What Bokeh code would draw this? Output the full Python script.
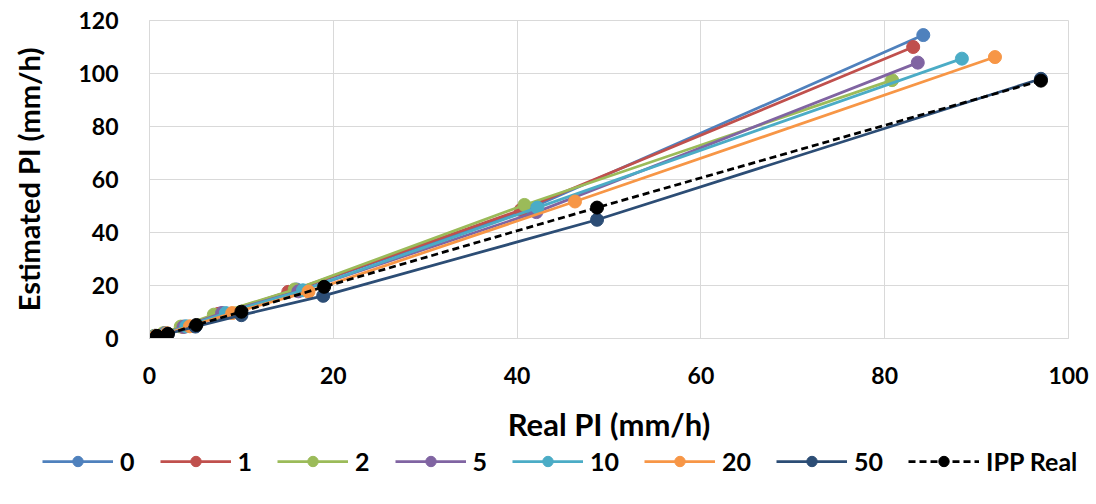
from bokeh.plotting import figure
from bokeh.models import Legend, LegendItem, Range1d, FixedTicker
from bokeh.layouts import column, row
from bokeh.embed import file_html
from bokeh.resources import INLINE

# ---- data ----
series_names = ["0", "1", "2", "5", "10", "20", "50"]
series_colors = ["#4F81BD", "#C0504D", "#9BBB59", "#8064A2", "#4BACC6", "#F79646", "#2C4D75"]

x_0 = [0.6, 1.7, 3.8, 7.8, 16.0, 41.0, 84.2]
y_0 = [1.0, 2.0, 4.5, 9.5, 18.5, 48.5, 114.5]
x_1 = [0.6, 1.7, 3.6, 7.5, 15.1, 40.4, 83.1]
y_1 = [1.0, 2.0, 4.4, 9.3, 17.6, 48.5, 110.0]
x_2 = [0.5, 1.5, 3.4, 7.0, 15.8, 40.8, 80.8]
y_2 = [1.0, 2.0, 4.5, 9.0, 18.5, 50.4, 97.5]
x_5 = [0.6, 1.7, 3.7, 7.9, 16.2, 42.1, 83.6]
y_5 = [1.0, 2.0, 4.4, 9.6, 17.8, 47.7, 104.1]
x_10 = [0.6, 1.8, 4.0, 8.3, 16.7, 42.2, 88.4]
y_10 = [1.0, 2.0, 4.6, 9.6, 18.2, 49.4, 105.6]
x_20 = [0.7, 1.9, 4.4, 9.0, 17.3, 46.3, 92.0]
y_20 = [1.0, 2.0, 4.6, 9.6, 17.7, 51.7, 106.2]
x_50 = [0.8, 2.0, 5.0, 10.0, 18.9, 48.7, 97.0]
y_50 = [0.8, 1.8, 4.5, 8.8, 16.1, 44.8, 98.0]
x_ipp = [0.8, 2.0, 5.1, 10.0, 19.0, 48.7, 97.0]
y_ipp = [1.0, 1.7, 5.1, 10.1, 19.5, 49.4, 97.3]

xs = [x_0, x_1, x_2, x_5, x_10, x_20, x_50]
ys = [y_0, y_1, y_2, y_5, y_10, y_20, y_50]

x_ticks = [0, 20, 40, 60, 80, 100]
y_ticks = [0, 20, 40, 60, 80, 100, 120]

FONT = "Lato"
GRID = "#D9D9D9"
W = 1090

main = figure(width=W, height=445, output_backend="svg", toolbar_location=None,
              x_range=Range1d(0, 100), y_range=Range1d(0, 120),
              min_border_left=149, min_border_right=22, min_border_top=20, min_border_bottom=104)

main.outline_line_color = GRID
main.background_fill_color = "white"
main.border_fill_color = "white"

for ax in (main.xaxis[0], main.yaxis[0]):
    ax.axis_line_color = GRID
    ax.major_tick_line_color = None
    ax.minor_tick_line_color = None
    ax.major_label_text_font = FONT
    ax.major_label_text_font_style = "bold"
    ax.major_label_text_font_size = "23px"
    ax.major_label_text_color = "#000000"
    ax.axis_label_text_font = FONT
    ax.axis_label_text_font_style = "bold"
    ax.axis_label_text_color = "#000000"

main.xaxis.axis_label_text_font_size = "31px"
main.yaxis.axis_label_text_font_size = "29px"
main.xaxis.ticker = FixedTicker(ticks=x_ticks)
main.yaxis.ticker = FixedTicker(ticks=y_ticks)
main.xaxis.axis_label = "Real PI (mm/h)"
main.yaxis.axis_label = "Estimated PI (mm/h)"
main.xaxis.major_label_standoff = 22
main.xaxis.axis_label_standoff = 18
main.yaxis.major_label_standoff = 25
main.yaxis.axis_label_standoff = 29

main.xgrid.grid_line_color = GRID
main.ygrid.grid_line_color = GRID
main.xgrid.ticker = FixedTicker(ticks=x_ticks)
main.ygrid.ticker = FixedTicker(ticks=y_ticks)

for name, color, xv, yv in zip(series_names, series_colors, xs, ys):
    main.line(xv, yv, line_color=color, line_width=2.75)
    main.scatter(xv, yv, size=13, fill_color=color, line_color=color)
main.line(x_ipp, y_ipp, line_color="black", line_width=2.75, line_dash="7 4")
main.scatter(x_ipp, y_ipp, size=13, fill_color="black", line_color="black")

# ---- legend strip (keys drawn from the same series, out of its view) ----
leg = figure(width=W, height=55, output_backend="svg", toolbar_location=None,
             x_range=Range1d(1000, 1001), y_range=Range1d(1000, 1001),
             x_axis_location=None, y_axis_location=None,
             min_border_left=0, min_border_right=0, min_border_top=0, min_border_bottom=0)
leg.grid.visible = False
leg.outline_line_color = None
leg.background_fill_color = "white"
leg.border_fill_color = "white"

items = []
for name, color, xv, yv in zip(series_names, series_colors, xs, ys):
    l = leg.line(xv, yv, line_color=color, line_width=2.75)
    s = leg.scatter(xv, yv, size=13, fill_color=color, line_color=color)
    items.append(LegendItem(label=name, renderers=[l, s]))
l = leg.line(x_ipp, y_ipp, line_color="black", line_width=2.75, line_dash="7 4")
s = leg.scatter(x_ipp, y_ipp, size=13, fill_color="black", line_color="black")
items.append(LegendItem(label="IPP Real", renderers=[l, s]))

legend = Legend(items=items, orientation="horizontal", location=(42, 24))
legend.glyph_width = 71
legend.glyph_height = 26
legend.label_standoff = 7
legend.label_width = 10
legend.spacing = 25
legend.padding = 3
legend.margin = 0
legend.border_line_color = None
legend.background_fill_alpha = 0
legend.label_text_font = FONT
legend.label_text_font_style = "bold"
legend.label_text_font_size = "25px"
legend.label_text_color = "#000000"
leg.add_layout(legend, "center")

p = column(main, row(leg), spacing=0)
open("out.html", "w").write(file_html(p, INLINE))
